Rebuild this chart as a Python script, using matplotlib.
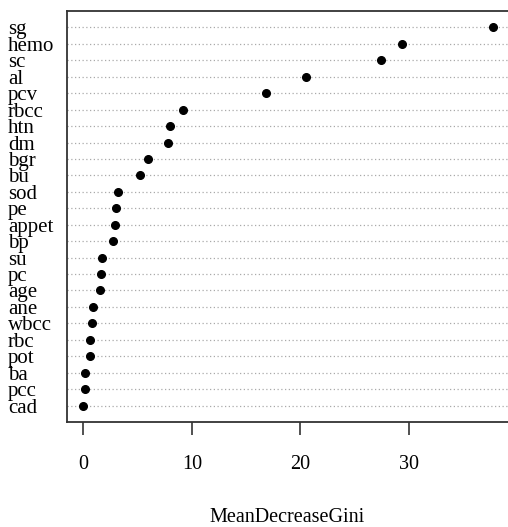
import numpy as np
import matplotlib.pyplot as plt

# variable importance, top to bottom as in the chart
features = ["sg", "hemo", "sc", "al", "pcv", "rbcc", "htn", "dm", "bgr", "bu",
            "sod", "pe", "appet", "bp", "su", "pc", "age", "ane", "wbcc", "rbc",
            "pot", "ba", "pcc", "cad"]
gini = [37.7, 29.4, 27.4, 20.5, 16.8, 9.15, 7.97, 7.77, 5.94, 5.27,
        3.16, 3.0, 2.88, 2.75, 1.74, 1.65, 1.5, 0.89, 0.8, 0.61,
        0.61, 0.15, 0.15, 0.0]
xticks = [0, 10, 20, 30]

plt.rcParams['font.family'] = ['Liberation Serif', 'DejaVu Serif']

W, H = 508, 527
fig = plt.figure(figsize=(W / 100, H / 100), dpi=100)
# axes box in pixels: left 67, right 511 (just past the image edge), top 11, bottom 422
ax = fig.add_axes([67 / W, 1 - 422 / H, (511 - 67) / W, (422 - 11) / H])

n = len(features)
ypos = np.arange(n, 0, -1)

for y in ypos:
    ax.axhline(y, color='#aaaaaa', linestyle=(0, (1, 2)), linewidth=0.9, zorder=1)
ax.plot(gini, ypos, 'o', color='black', markersize=5.5, zorder=3)

ax.set_xlim(-1.5, 39.4)
ax.set_ylim(0, n + 1)

ax.set_xticks(xticks)
ax.set_xticklabels([str(t) for t in xticks], fontsize=14.5)
ax.tick_params(axis='x', length=9, width=1.2, pad=15, color='#333333')

ax.set_yticks(ypos)
ax.set_yticklabels(features, fontsize=15)
ax.tick_params(axis='y', length=0, pad=(67 - 8) * 0.72)
for lab in ax.get_yticklabels():
    lab.set_horizontalalignment('left')

for s in ax.spines.values():
    s.set_linewidth(1.3)
    s.set_color('#333333')

fig.text(287 / W, 1 - 517 / H, "MeanDecreaseGini", ha='center', va='center', fontsize=14.5)

fig.savefig("out.png", dpi=100)
